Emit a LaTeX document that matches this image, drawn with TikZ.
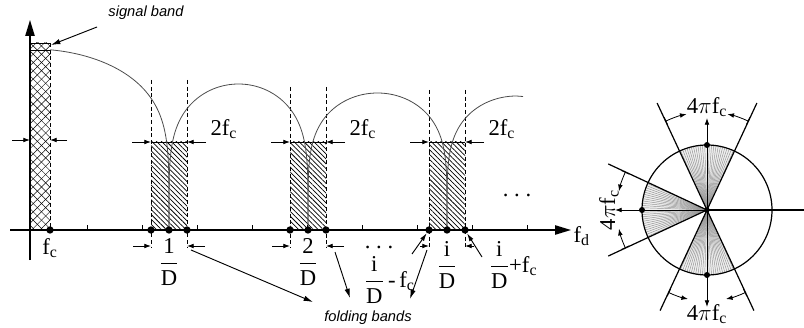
\documentclass[tikz,border=0pt]{standalone}
\usepackage{amsmath}
\usepackage{fontspec}
\setmainfont{Liberation Serif}
\newfontfamily\notefont{Liberation Sans}
\usetikzlibrary{arrows.meta, calc, patterns.meta}
\newcommand{\fsub}[1]{\text{f}_{\text{#1}}}
\newcommand{\overD}[1]{\dfrac{\text{#1}}{\text{D}}}

\begin{document}
\begin{tikzpicture}[x=0.75pt, y=-0.75pt,
  axisline/.style={line width=1.1pt, -{Triangle[length=12pt,width=7pt]}},
  dimarrow/.style={line width=0.6pt, -{Latex[length=5pt,width=3.5pt]}},
  arcarrow/.style={line width=0.6pt, {Bar[width=6pt]}-{Latex[length=5pt,width=3.5pt]}},
  bandedge/.style={line width=0.7pt, dash pattern=on 3pt off 2pt},
  lobe/.style={line width=0.6pt, black!70},
  dot/.style={circle, fill, inner sep=0pt, minimum size=5.5pt},
  lbl/.style={font=\fontsize{17}{19}\selectfont, inner sep=1pt},
  note/.style={font=\notefont\itshape\fontsize{11}{13}\selectfont},
  notearrow/.style={line width=0.7pt, -{Latex[length=7pt,width=4pt]}},
  hatch/.style={pattern={Lines[angle=-45, distance=2.6pt, line width=0.55pt]}},
  cross/.style={pattern={Lines[angle=45, distance=4.4pt, line width=0.35pt]}}]
\useasboundingbox (0,0) rectangle (804,328);

% signal band
\fill[cross] (30,43) rectangle (50,230);
\fill[pattern={Lines[angle=-45, distance=4.4pt, line width=0.35pt]}] (30,43) rectangle (50,230);
\draw[line width=0.5pt] (30,43) -- (50,43) (30,50) -- (50,50);
\draw[bandedge] (50,43) -- (50,230);
\coordinate (sb-top) at (51,45);
\coordinate (sb-l) at (30,140);
\coordinate (sb-r) at (50,140);
\draw[dimarrow] (sb-l) ++(-18,0) -- (sb-l);
\draw[dimarrow] (sb-r) ++(17,0) -- (sb-r);

% folding bands
\foreach \c/\n/\s/\t in {169/1/18/80, 308/2/18/87, 447/3/9/90}{
  \fill[hatch] (\c-18,142) rectangle (\c+18,230);
  \draw[line width=0.5pt] (\c-18,142) -- (\c+18,142);
  \draw[bandedge] (\c-18,\t) -- (\c-18,248);
  \draw[bandedge] (\c+18,\t) -- (\c+18,248);
  \coordinate (t\n-l) at (\c-18,142);
  \coordinate (t\n-r) at (\c+18,142);
  \coordinate (u\n-l) at (\c-18,246);
  \coordinate (u\n-r) at (\c+18,246);
  \draw[dimarrow] (t\n-l) ++(-19,0) -- (t\n-l);
  \draw[dimarrow] (t\n-r) ++(19,0) -- (t\n-r);
  \draw[dimarrow] (u\n-l) ++(-\s,0) -- (u\n-l);
  \draw[dimarrow] (u\n-r) ++(\s,0) -- (u\n-r);
  \node[lbl, anchor=west] (w\n) at (\c+40,129) {$\text{2}\fsub{c}$};
}

% lobes
\draw[lobe] plot[variable=\v, domain=84.6:0, samples=70]
  ({32+137*acos(sin(\v)^5)/90}, {230-181*sin(\v)});
\foreach \a/\b/\h in {169/308/146, 308/447/137}{
  \draw[lobe] plot[variable=\v, domain=0:90, samples=60]
      ({\a+(\b-\a)*asin(sin(\v)^5)/180}, {230-\h*sin(\v)})
    -- plot[variable=\v, domain=90:0, samples=60]
      ({\b-(\b-\a)*asin(sin(\v)^5)/180}, {230-\h*sin(\v)});
}
\draw[lobe] plot[variable=\v, domain=0:90, samples=60]
  ({447+139*asin(sin(\v)^5)/180}, {230-134*sin(\v)}) -- (523,96.5);

% axes
\draw[axisline] (30,260) -- (30,20);
\draw[axisline] (10,230) -- (571,230);
\foreach \k in {1,...,9} \draw[line width=0.6pt] (32+55*\k,230) -- (32+55*\k,225);

\node[dot] (fc) at (50,230) {};
\foreach \c/\n in {169/1, 308/2, 447/3}{
  \node[dot] (p\n-l) at (\c-18,230) {};
  \node[dot] (p\n) at (\c,230) {};
  \node[dot] (p\n-r) at (\c+18,230) {};
}

% labels on the axis
\node[lbl] (fcl) at (50,248) {$\fsub{c}$};
\node[lbl, anchor=west] (fd) at (572,236) {$\fsub{d}$};
\node[lbl] (q1) at (169,262) {$\overD{1}$};
\node[lbl] (q2) at (308,262) {$\overD{2}$};
\node[lbl] (qi) at (447,265) {$\overD{i}$};
\node[lbl, anchor=west] (qm) at (363,280) {$\overD{i}\,\text{-}\,\fsub{c}$};
\node[lbl, anchor=west] (qp) at (488,265) {$\overD{i}\text{+}\fsub{c}$};
\node[lbl, anchor=base] (dots1) at (379,248) {.~.~.};
\node[lbl, anchor=base] (dots2) at (517,196) {.~.~.};

\coordinate (m-tail) at (412,254);
\coordinate (p-tail) at (482,257);
\draw[line width=0.7pt, -{Latex[length=6pt,width=3.5pt]}] (m-tail) -- (p3-l);
\draw[line width=0.7pt, -{Latex[length=6pt,width=3.5pt]}] (p-tail) -- (p3-r);

% notes
\node[note] (sig) at (146,13) {signal band};
\coordinate (sig-tail) at (97,27);
\draw[notearrow] (sig-tail) -- (sb-top);

\node[note] (fold) at (368,318) {folding bands};
\coordinate (f1-tail) at (191,250);
\coordinate (f1) at (313,302);
\coordinate (f2-tail) at (335,252);
\coordinate (f2) at (350,298);
\coordinate (f3-tail) at (427,250);
\coordinate (f3) at (410,299);
\draw[notearrow] (f1-tail) -- (f1);
\draw[notearrow] (f2-tail) -- (f2);
\draw[notearrow] (f3-tail) -- (f3);

% polar view
\coordinate (pc) at (707,210);
\begin{scope}[shift={(pc)}, y=0.75pt]
  \foreach \m in {90,180,270}{
    \fill[gray!12] (0,0) -- (\m-25:65) arc[start angle=\m-25, end angle=\m+25, radius=65] -- cycle;
    \foreach \k in {-24,-22,...,24} \draw[gray!85, line width=0.35pt] (0,0) -- (\m+\k:65);
  }
  \coordinate (o) at (0,0);
  \draw[line width=0.9pt] (o) circle[radius=65];
  \draw[line width=0.9pt] (115:118) -- (-65:111);
  \draw[line width=0.9pt] (65:118) -- (-115:111);
  \draw[line width=0.9pt] (o) -- (155:109);
  \draw[line width=0.9pt] (o) -- (205:109);
  \coordinate (ax-u) at (0,92);
  \coordinate (ax-d) at (0,-97);
  \coordinate (ax-l) at (-92,0);
  \coordinate (ax-r) at (97,0);
  \draw[dimarrow] (o) -- (ax-u);
  \draw[dimarrow] (o) -- (ax-d);
  \draw[dimarrow] (o) -- (ax-l);
  \draw[line width=0.9pt] (o) -- (ax-r);
  \node[dot, minimum size=4.5pt] (c-u) at (0,65) {};
  \node[dot, minimum size=4.5pt] (c-d) at (0,-65) {};
  \node[dot, minimum size=4.5pt] (c-l) at (-65,0) {};
  \node[dot, minimum size=4pt] (c-o) at (o) {};
  \draw[arcarrow] (115:98) arc[start angle=115, end angle=102, radius=98];
  \draw[arcarrow] (65:98) arc[start angle=65, end angle=78, radius=98];
  \draw[arcarrow] (245:91) arc[start angle=245, end angle=258, radius=91];
  \draw[arcarrow] (295:91) arc[start angle=295, end angle=282, radius=91];
  \draw[arcarrow] (155:90) arc[start angle=155, end angle=168, radius=90];
  \draw[arcarrow] (205:90) arc[start angle=205, end angle=192, radius=90];
  \node[lbl] (a-u) at (0,103) {$\text{4}\pi\fsub{c}$};
  \node[lbl] (a-d) at (0,-104) {$\text{4}\pi\fsub{c}$};
  \node[lbl, rotate=90] (a-l) at (-98,0) {$\text{4}\pi\fsub{c}$};
\end{scope}
\end{tikzpicture}
\end{document}
